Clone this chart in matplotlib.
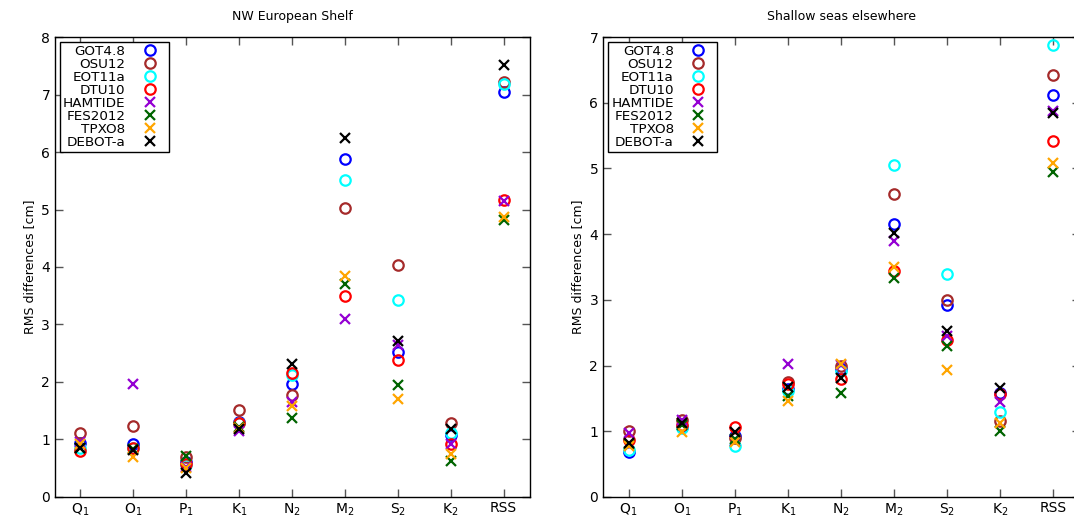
import numpy as np
import matplotlib
matplotlib.use("Agg")
import matplotlib.pyplot as plt

constituents = ["Q$_1$", "O$_1$", "P$_1$", "K$_1$", "N$_2$", "M$_2$", "S$_2$", "K$_2$", "RSS"]
models = ["GOT4.8", "OSU12", "EOT11a", "DTU10", "HAMTIDE", "FES2012", "TPXO8", "DEBOT-a"]

# NW European Shelf
nw_got = [0.94, 0.93, 0.60, 1.31, 1.97, 5.87, 2.52, 1.07, 7.04]
nw_osu = [1.11, 1.24, 0.70, 1.52, 1.77, 5.03, 4.03, 1.29, 7.22]
nw_eot = [0.86, 0.85, 0.56, 1.29, 2.13, 5.52, 3.43, 1.11, 7.19]
nw_dtu = [0.80, 0.85, 0.57, 1.28, 2.16, 3.50, 2.38, 0.92, 5.17]
nw_ham = [0.96, 1.96, 0.52, 1.14, 1.66, 3.10, 2.64, 0.93, 5.15]
nw_fes = [0.85, 0.83, 0.72, 1.22, 1.38, 3.70, 1.94, 0.62, 4.81]
nw_tpxo = [0.92, 0.70, 0.50, 1.20, 1.58, 3.85, 1.70, 0.74, 4.87]
nw_debot = [0.85, 0.81, 0.41, 1.19, 2.32, 6.25, 2.72, 1.19, 7.51]

# Shallow seas elsewhere
sh_got = [0.68, 1.07, 0.93, 1.65, 1.95, 4.15, 2.92, 1.59, 6.11]
sh_osu = [1.01, 1.17, 0.90, 1.75, 1.99, 4.61, 3.00, 1.16, 6.42]
sh_eot = [0.72, 1.05, 0.77, 1.62, 1.91, 5.05, 3.39, 1.30, 6.88]
sh_dtu = [0.87, 1.10, 1.06, 1.72, 1.79, 3.44, 2.39, 1.57, 5.41]
sh_ham = [0.97, 1.17, 0.85, 2.02, 2.01, 3.89, 2.45, 1.45, 5.88]
sh_fes = [0.80, 1.10, 0.89, 1.53, 1.58, 3.33, 2.30, 1.00, 4.95]
sh_tpxo = [0.78, 0.99, 0.83, 1.46, 2.02, 3.50, 1.93, 1.12, 5.08]
sh_debot = [0.82, 1.13, 0.99, 1.68, 1.81, 4.02, 2.52, 1.66, 5.85]

colors = ["#0000ff", "#a52a2a", "#00ffff", "#ff0000", "#9400d3", "#006400", "#ffa500", "#000000"]
markers = ["o", "o", "o", "o", "x", "x", "x", "x"]

panels = [
    ("NW European Shelf", [nw_got, nw_osu, nw_eot, nw_dtu, nw_ham, nw_fes, nw_tpxo, nw_debot], 8),
    ("Shallow seas elsewhere", [sh_got, sh_osu, sh_eot, sh_dtu, sh_ham, sh_fes, sh_tpxo, sh_debot], 7),
]

fig = plt.figure(figsize=(10.74, 5.19), dpi=100)
# right panel runs slightly past the figure edge, as in the original crop
positions = [[0.0512, 0.0424, 0.4423, 0.8863], [0.5615, 0.0424, 0.4441, 0.8863]]

x = np.arange(len(constituents))
for pos, (title, series, ymax) in zip(positions, panels):
    ax = fig.add_axes(pos)
    for name, vals, c, m in zip(models, series, colors, markers):
        if m == "o":
            ax.plot(x, vals, linestyle="none", marker="o", markersize=7.5,
                    markerfacecolor="none", markeredgecolor=c, markeredgewidth=1.6, label=name)
        else:
            ax.plot(x, vals, linestyle="none", marker="x", markersize=7,
                    color=c, markeredgewidth=1.6, label=name)
    ax.set_xlim(-0.48, 8.5)
    ax.set_ylim(0, ymax)
    ax.set_xticks(x)
    ax.set_xticklabels(constituents, fontsize=10)
    ax.set_yticks(range(ymax + 1))
    ax.tick_params(axis="y", labelsize=10)
    ax.tick_params(direction="in", top=True, right=True, length=6, width=1, color="#555555")
    ax.tick_params(axis="x", pad=3)
    ax.set_ylabel("RMS differences [cm]", fontsize=9)
    ax.set_title(title, fontsize=9, pad=12)
    for s in ax.spines.values():
        s.set_linewidth(1.0)
    leg = ax.legend(loc="upper left", markerfirst=False, fontsize=9.7, frameon=True,
                    fancybox=False, edgecolor="black", framealpha=1,
                    borderaxespad=0.4, handletextpad=0.6, labelspacing=0.0,
                    borderpad=0.2, handlelength=2.4)
    leg.get_frame().set_linewidth(1.0)
    for t in leg.get_texts():
        t.set_ha("right")

fig.savefig("out.png", dpi=100)
